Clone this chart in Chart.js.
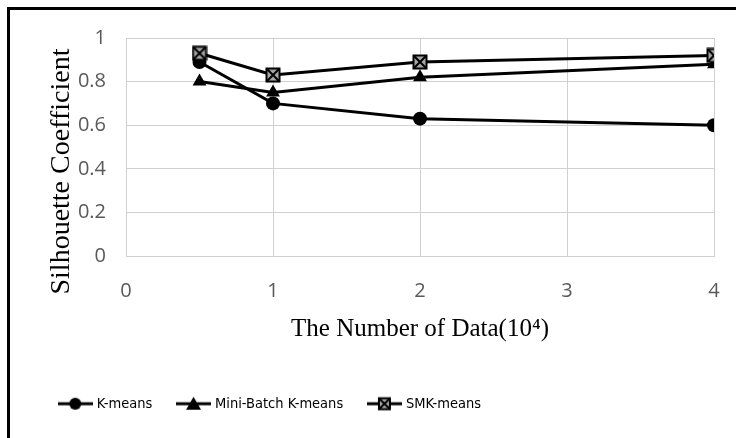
<!DOCTYPE html>
<html><head><meta charset="utf-8">
<script src="https://cdn.jsdelivr.net/npm/chart.js@4"></script>
<style>
html,body{margin:0;padding:0;background:#fff;}
#wrap{position:relative;width:736px;height:438px;overflow:hidden;}
#frame{position:absolute;left:7px;top:7px;right:-5px;bottom:-5px;border-left:3px solid #000;border-top:3px solid #000;}
canvas{position:absolute;left:0;top:0;}
</style></head><body>
<div id="wrap"><div id="frame"></div><canvas id="c" width="736" height="438"></canvas></div>
<script>
const xValues = [0.5, 1, 2, 4];
const kMeans = [0.89, 0.70, 0.63, 0.60];
const miniBatch = [0.80, 0.75, 0.82, 0.88];
const smkMeans = [0.93, 0.83, 0.89, 0.92];
const seriesNames = ['K-means', 'Mini-Batch K-means', 'SMK-means'];
const yTickLabels = ['0', '0.2', '0.4', '0.6', '0.8', '1'];
const xTitle = 'The Number of Data(10\u2074)';
const yTitle = 'Silhouette Coefficient';

function drawSmk(g, cx, cy, s) {
  const h = s / 2;
  g.fillStyle = '#a6a6a6';
  g.fillRect(cx - h, cy - h, s, s);
  g.strokeStyle = '#000';
  g.lineWidth = 2;
  g.strokeRect(cx - h, cy - h, s, s);
  g.beginPath();
  g.moveTo(cx - h, cy - h); g.lineTo(cx + h, cy + h);
  g.moveTo(cx + h, cy - h); g.lineTo(cx - h, cy + h);
  g.lineWidth = 2;
  g.stroke();
}
function smkMarker(size) {
  const c = document.createElement('canvas');
  c.width = c.height = size;
  drawSmk(c.getContext('2d'), size / 2, size / 2, size - 3);
  return c;
}
function legendIcon(kind) {
  const w = 35, hgt = 16;
  const c = document.createElement('canvas');
  c.width = w; c.height = hgt;
  const g = c.getContext('2d');
  g.fillStyle = '#000';
  g.fillRect(0, hgt / 2 - 1.5, w, 3);
  const cx = w / 2, cy = hgt / 2;
  if (kind === 0) {
    g.beginPath(); g.arc(cx, cy, 6, 0, Math.PI * 2); g.fill();
  } else if (kind === 1) {
    g.beginPath(); g.moveTo(cx, cy - 7); g.lineTo(cx + 7.5, cy + 6); g.lineTo(cx - 7.5, cy + 6); g.closePath(); g.fill();
  } else {
    drawSmk(g, cx, cy, 11);
  }
  return c;
}
const legendIcons = [legendIcon(0), legendIcon(1), legendIcon(2)];
const tickFont = { family: 'Open Sans', size: 20 };

new Chart(document.getElementById('c'), {
  type: 'line',
  data: {
    datasets: [
      { label: seriesNames[0], data: xValues.map((x, i) => ({ x, y: kMeans[i] })), order: 2,
        borderColor: '#000', backgroundColor: '#000', borderWidth: 3, tension: 0,
        pointStyle: 'circle', pointRadius: 7, pointBorderWidth: 0 },
      { label: seriesNames[1], data: xValues.map((x, i) => ({ x, y: miniBatch[i] })), order: 1,
        borderColor: '#000', backgroundColor: '#000', borderWidth: 3, tension: 0,
        pointStyle: 'triangle', pointRadius: 8, pointBorderWidth: 0 },
      { label: seriesNames[2], data: xValues.map((x, i) => ({ x, y: smkMeans[i] })), order: 0,
        borderColor: '#000', backgroundColor: '#000', borderWidth: 3, tension: 0,
        pointStyle: smkMarker(16), pointRadius: 8 }
    ]
  },
  options: {
    responsive: false,
    animation: false,
    layout: { padding: { left: 34, top: 38, right: 22, bottom: 17 } },
    plugins: {
      tooltip: { enabled: false },
      legend: {
        position: 'bottom',
        align: 'start',
        labels: {
          usePointStyle: true,
          pointStyleWidth: 28.5,
          padding: 27,
          color: '#000',
          font: { family: "'DejaVu Sans Condensed', sans-serif", size: 14.5 },
          sort: (a, b) => a.datasetIndex - b.datasetIndex,
          generateLabels(chart) {
            const items = Chart.defaults.plugins.legend.labels.generateLabels(chart);
            items.forEach(it => { it.pointStyle = legendIcons[it.datasetIndex]; it.fontColor = '#000'; });
            return items;
          }
        }
      }
    },
    scales: {
      x: {
        type: 'linear', min: 0, max: 4,
        ticks: { stepSize: 1, padding: 23, color: '#595959', font: tickFont },
        grid: { color: '#d0d0d0', drawTicks: false },
        border: { color: '#d0d0d0' },
        title: { display: true, text: xTitle, color: '#000',
                 font: { family: 'Liberation Serif', size: 25 }, padding: { top: 0, bottom: 25 } },
        afterFit(s) { s.height = 113.5; s.paddingLeft = 0; s.paddingRight = 0; }
      },
      y: {
        min: 0, max: 1,
        ticks: { stepSize: 0.2, padding: 20, color: '#595959', font: tickFont,
                 callback: (v, i) => yTickLabels[i] },
        grid: { color: '#d0d0d0', drawTicks: false },
        border: { color: '#d0d0d0' },
        title: { display: true, text: yTitle + '\u00a0\u00a0\u00a0\u00a0\u00a0\u00a0\u00a0', color: '#000',
                 font: { family: 'Liberation Serif', size: 28 }, padding: { top: 11, bottom: 0 } },
        afterFit(s) { s.width = 92; }
      }
    }
  }
});
</script>
</body></html>
